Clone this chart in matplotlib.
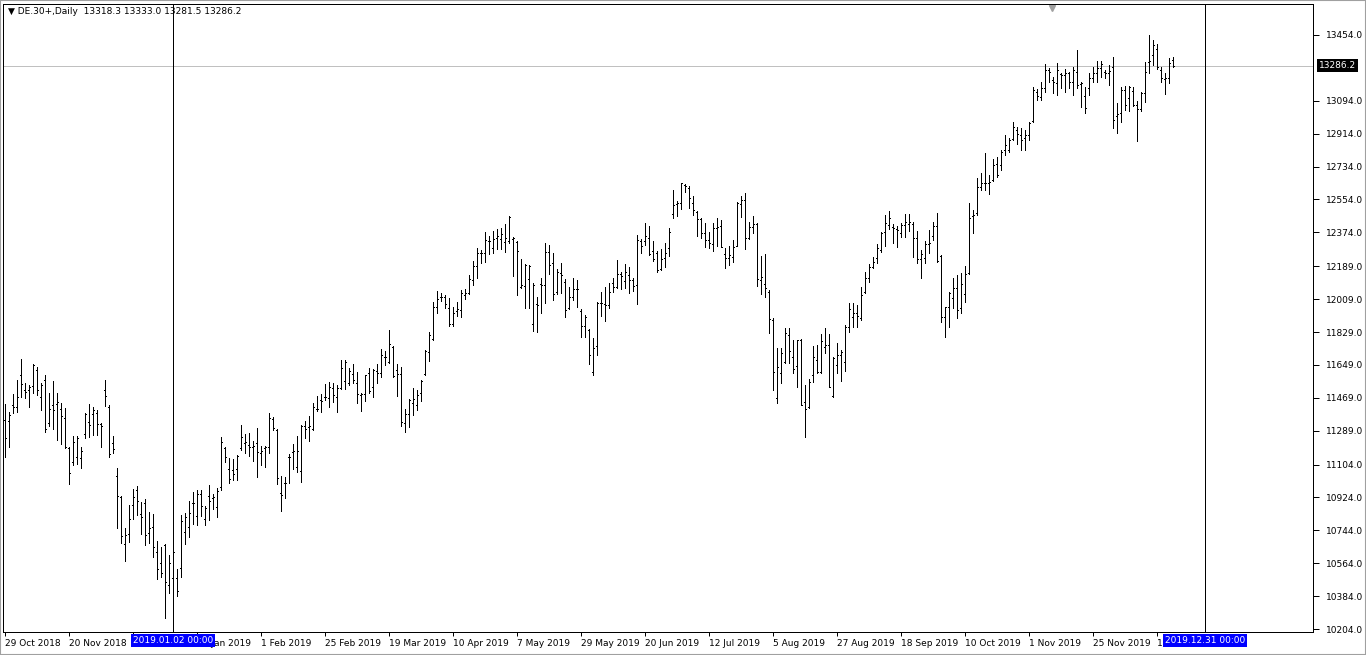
import numpy as np
import matplotlib.pyplot as plt
from matplotlib.transforms import blended_transform_factory
from matplotlib.patches import Rectangle

# daily DE30 bars, 29 Oct 2018 .. Dec 2019
opens = [
    11348, 11342, 11430, 11419, 11594, 11512, 11512, 11534, 11621, 11473,
    11566, 11331, 11430, 11435, 11408, 11358, 11194, 11118, 11145, 11140,
    11271, 11337, 11380, 11386, 11326, 11512, 11419, 11222, 11041, 10926,
    10669, 10724, 10882, 10965, 10833, 10893, 10729, 10762, 10625, 10565,
    10664, 10445, 10483, 10483, 10538, 10735, 10762, 10893, 10822, 10943,
    10806, 10932, 10921, 10871, 10981, 11194, 11080, 11074, 11080, 11194,
    11222, 11211, 11200, 11222, 11167, 11194, 11200, 11353, 11293, 10948,
    11003, 11145, 11173, 11090, 11069, 11315, 11309, 11298, 11408, 11457,
    11473, 11468, 11523, 11473, 11523, 11561, 11550, 11599, 11550, 11484,
    11490, 11605, 11528, 11616, 11605, 11692, 11665, 11747, 11621, 11599,
    11331, 11380, 11441, 11430, 11495, 11599, 11720, 11791, 11966, 12021,
    12021, 11960, 11873, 11944, 11949, 12031, 12042, 12113, 12190, 12261,
    12261, 12327, 12289, 12343, 12338, 12321, 12327, 12338, 12321, 12075,
    12081, 12119, 11873, 11982, 12092, 12086, 12267, 12206, 12048, 12152,
    12102, 11960, 12021, 12064, 11944, 11862, 11840, 11610, 11752, 11988,
    11982, 11977, 12097, 12075, 12146, 12108, 12141, 12113, 12086, 12327,
    12327, 12343, 12272, 12261, 12174, 12234, 12289, 12475, 12529, 12535,
    12634, 12617, 12535, 12486, 12447, 12371, 12332, 12311, 12398, 12409,
    12256, 12234, 12239, 12300, 12529, 12551, 12343, 12404, 12420, 12113,
    12092, 12048, 11895, 11468, 11605, 11665, 11813, 11692, 11643, 11785,
    11446, 11419, 11594, 11676, 11610, 11747, 11758, 11479, 11648, 11703,
    11665, 11856, 11911, 11933, 11906, 12048, 12124, 12185, 12234, 12278,
    12376, 12414, 12404, 12393, 12371, 12414, 12420, 12420, 12343, 12228,
    12234, 12311, 12354, 12409, 12245, 11911, 11966, 12015, 12070, 11960,
    12037, 12152, 12464, 12480, 12622, 12644, 12644, 12661, 12748, 12743,
    12825, 12825, 12885, 12934, 12907, 12890, 12907, 12984, 13142, 13115,
    13164, 13262, 13208, 13191, 13240, 13235, 13246, 13197, 13252, 13186,
    13120, 13164, 13219, 13246, 13273, 13252, 13246, 13279, 13011, 13027,
    13153, 13109, 13148, 13071, 13049, 13137, 13306, 13345, 13377, 13262,
    13213, 13219, 13318.3,
]
highs = [
    11435, 11391, 11490, 11566, 11681, 11550, 11539, 11654, 11637, 11550,
    11594, 11495, 11561, 11495, 11441, 11413, 11200, 11260, 11260, 11200,
    11386, 11435, 11419, 11402, 11331, 11566, 11430, 11260, 11085, 10932,
    10757, 10882, 10970, 10986, 10899, 10915, 10844, 10833, 10686, 10653,
    10670, 10609, 10647, 10532, 10828, 10839, 10904, 10954, 10965, 10965,
    10877, 10992, 10943, 10975, 11254, 11200, 11140, 11134, 11156, 11320,
    11271, 11276, 11233, 11304, 11205, 11205, 11386, 11364, 11298, 11041,
    11036, 11162, 11216, 11260, 11320, 11342, 11369, 11441, 11479, 11490,
    11545, 11555, 11550, 11539, 11676, 11676, 11632, 11654, 11610, 11495,
    11594, 11632, 11627, 11654, 11736, 11725, 11840, 11752, 11654, 11637,
    11408, 11462, 11523, 11512, 11566, 11731, 11829, 11993, 12053, 12042,
    12031, 12015, 11966, 11993, 12059, 12064, 12141, 12217, 12289, 12278,
    12376, 12354, 12382, 12393, 12398, 12420, 12464, 12349, 12327, 12228,
    12201, 12196, 12097, 12021, 12124, 12316, 12305, 12261, 12174, 12206,
    12119, 12075, 12124, 12113, 11955, 11922, 11845, 11796, 11993, 12048,
    12075, 12097, 12124, 12223, 12157, 12201, 12185, 12124, 12360, 12338,
    12425, 12409, 12327, 12272, 12283, 12316, 12398, 12606, 12546, 12644,
    12639, 12628, 12573, 12491, 12453, 12425, 12376, 12425, 12453, 12442,
    12289, 12300, 12332, 12540, 12573, 12590, 12431, 12464, 12425, 12245,
    12256, 12059, 11906, 11741, 11741, 11851, 11851, 11785, 11785, 11790,
    11539, 11572, 11752, 11758, 11818, 11851, 11818, 11692, 11769, 11731,
    11867, 11988, 11988, 11977, 12075, 12157, 12201, 12239, 12311, 12376,
    12469, 12491, 12420, 12409, 12425, 12475, 12475, 12431, 12382, 12278,
    12327, 12387, 12431, 12480, 12250, 11966, 12048, 12124, 12141, 12152,
    12190, 12535, 12496, 12672, 12699, 12808, 12688, 12775, 12786, 12825,
    12907, 12890, 12978, 12951, 12945, 12934, 12978, 13170, 13159, 13197,
    13295, 13273, 13224, 13301, 13246, 13268, 13252, 13279, 13372, 13197,
    13170, 13246, 13279, 13312, 13312, 13262, 13290, 13334, 13082, 13170,
    13175, 13175, 13170, 13093, 13142, 13306, 13454, 13427, 13405, 13279,
    13246, 13328, 13333.0,
]
lows = [
    11145, 11200, 11386, 11391, 11473, 11468, 11419, 11495, 11484, 11402,
    11282, 11315, 11298, 11238, 11216, 11194, 10997, 11101, 11107, 11085,
    11249, 11254, 11265, 11265, 11200, 11424, 11145, 11167, 10757, 10675,
    10576, 10680, 10806, 10828, 10724, 10664, 10675, 10598, 10478, 10488,
    10264, 10401, 10417, 10385, 10488, 10669, 10708, 10779, 10773, 10822,
    10773, 10800, 10861, 10817, 10965, 11118, 11003, 11019, 11019, 11183,
    11167, 11151, 11123, 11036, 11101, 11090, 11167, 11293, 10997, 10850,
    10921, 11003, 11080, 11063, 11008, 11249, 11233, 11293, 11397, 11391,
    11457, 11419, 11446, 11391, 11517, 11517, 11539, 11550, 11441, 11397,
    11452, 11495, 11473, 11550, 11583, 11648, 11659, 11583, 11479, 11315,
    11282, 11309, 11375, 11402, 11452, 11594, 11670, 11785, 11933, 11999,
    11960, 11862, 11862, 11917, 11911, 12010, 12037, 12086, 12124, 12206,
    12212, 12256, 12261, 12283, 12283, 12267, 12316, 12135, 12031, 12070,
    11960, 11960, 11835, 11829, 11933, 11988, 12146, 12004, 12037, 12042,
    11911, 11955, 12004, 11966, 11802, 11802, 11654, 11594, 11703, 11917,
    11889, 11960, 12048, 12070, 12064, 12070, 12042, 12053, 11982, 12261,
    12305, 12250, 12217, 12157, 12168, 12185, 12245, 12453, 12464, 12502,
    12595, 12507, 12469, 12354, 12343, 12294, 12289, 12272, 12300, 12294,
    12179, 12196, 12212, 12300, 12458, 12283, 12338, 12371, 12081, 12037,
    12021, 11824, 11512, 11441, 11550, 11659, 11659, 11605, 11528, 11430,
    11254, 11413, 11555, 11605, 11605, 11714, 11528, 11473, 11605, 11561,
    11616, 11829, 11856, 11856, 11895, 12042, 12102, 12179, 12206, 12267,
    12300, 12393, 12316, 12294, 12349, 12349, 12382, 12239, 12206, 12124,
    12206, 12261, 12332, 12212, 11884, 11802, 11856, 11960, 11906, 11933,
    11993, 12146, 12371, 12469, 12606, 12606, 12584, 12655, 12677, 12715,
    12798, 12814, 12880, 12858, 12825, 12825, 12880, 12978, 13098, 13098,
    13142, 13197, 13137, 13126, 13164, 13142, 13164, 13126, 13164, 13060,
    13027, 13126, 13197, 13197, 13224, 13219, 13180, 12945, 12918, 12978,
    13044, 13038, 13066, 12874, 13038, 13087, 13246, 13290, 13268, 13197,
    13131, 13191, 13281.5,
]
closes = [
    11249, 11375, 11419, 11473, 11545, 11501, 11528, 11648, 11512, 11539,
    11298, 11408, 11402, 11446, 11369, 11200, 11058, 11227, 11249, 11178,
    11380, 11320, 11402, 11326, 11315, 11479, 11162, 11189, 10932, 10713,
    10718, 10806, 10926, 10904, 10817, 10718, 10757, 10653, 10532, 10510,
    10461, 10565, 10625, 10412, 10795, 10817, 10839, 10893, 10943, 10877,
    10866, 10904, 10926, 10959, 11227, 11145, 11025, 11052, 11151, 11254,
    11227, 11200, 11205, 11173, 11178, 11200, 11358, 11304, 11030, 10937,
    11003, 11145, 11178, 11178, 11315, 11298, 11315, 11419, 11408, 11452,
    11473, 11528, 11484, 11523, 11632, 11665, 11616, 11566, 11490, 11490,
    11594, 11506, 11621, 11605, 11703, 11692, 11763, 11588, 11599, 11337,
    11380, 11457, 11462, 11484, 11561, 11725, 11813, 11966, 12010, 12021,
    11982, 11873, 11933, 11955, 12042, 12042, 12119, 12190, 12261, 12261,
    12332, 12327, 12338, 12354, 12365, 12343, 12458, 12343, 12272, 12086,
    12196, 12190, 12086, 11977, 12086, 12267, 12196, 12037, 12157, 12141,
    11949, 12021, 12064, 12064, 11862, 11911, 11703, 11741, 11988, 11988,
    11977, 12048, 12075, 12146, 12135, 12157, 12113, 12081, 12332, 12300,
    12354, 12256, 12228, 12168, 12228, 12261, 12376, 12524, 12535, 12644,
    12628, 12562, 12496, 12447, 12371, 12332, 12316, 12398, 12404, 12294,
    12234, 12250, 12294, 12535, 12551, 12343, 12404, 12420, 12119, 12130,
    12070, 11900, 11610, 11637, 11714, 11824, 11725, 11627, 11785, 11430,
    11408, 11555, 11692, 11610, 11780, 11758, 11528, 11687, 11703, 11720,
    11856, 11955, 11933, 11917, 12031, 12124, 12185, 12212, 12289, 12371,
    12425, 12453, 12398, 12387, 12414, 12431, 12431, 12343, 12228, 12256,
    12311, 12316, 12409, 12217, 11911, 11966, 12042, 12070, 11949, 12092,
    12146, 12453, 12469, 12622, 12644, 12644, 12650, 12743, 12688, 12814,
    12852, 12880, 12951, 12912, 12880, 12907, 12973, 13153, 13120, 13164,
    13262, 13252, 13197, 13262, 13235, 13246, 13197, 13262, 13180, 13191,
    13055, 13219, 13246, 13273, 13295, 13246, 13257, 12989, 13022, 13153,
    13071, 13170, 13071, 13049, 13137, 13252, 13312, 13399, 13279, 13219,
    13219, 13301, 13286.2,
]

price_ticks = [13454, 13094, 12914, 12734, 12554, 12374, 12189, 12009, 11829,
               11649, 11469, 11289, 11104, 10924, 10744, 10564, 10384, 10204]
# the third label sits fully under the blue 2019.01.02 box, so it stays blank
date_labels = ['29 Oct 2018', '20 Nov 2018', '', '10 Jan 2019',
               '1 Feb 2019', '25 Feb 2019', '19 Mar 2019', '10 Apr 2019',
               '7 May 2019', '29 May 2019', '20 Jun 2019', '12 Jul 2019',
               '5 Aug 2019', '27 Aug 2019', '18 Sep 2019', '10 Oct 2019',
               '1 Nov 2019', '25 Nov 2019', '17 Dec 2019']
marker_bars = [42, 300]
marker_labels = ['2019.01.02 00:00', '2019.12.31 00:00']
header = '\u25bc DE.30+,Daily  13318.3 13333.0 13281.5 13286.2'

plt.rcParams['font.family'] = ['DejaVu Sans']
fs = 6.5

n = len(closes)
idx = np.arange(n)

fig = plt.figure(figsize=(13.66, 6.55), dpi=100)
fig.patch.set_facecolor('white')
ax = fig.add_axes([3 / 1366, 23 / 655, 1310 / 1366, 628 / 655])
ax.set_xlim(-0.5, 327)
ax.set_ylim(10187.6, 13623.6)

# bars
ax.vlines(idx, lows, highs, colors='black', linewidth=0.72, antialiased=False, zorder=3)
ax.hlines(opens, idx - 0.3, idx, colors='black', linewidth=0.72, antialiased=False, zorder=3)
ax.hlines(closes, idx, idx + 0.3, colors='black', linewidth=0.72, antialiased=False, zorder=3)

# bid line and vertical markers
ax.axhline(closes[-1], color='#C0C0C0', linewidth=0.72, zorder=1)
for b in marker_bars:
    ax.axvline(b, color='black', linewidth=0.72, zorder=2)

for s in ax.spines.values():
    s.set_linewidth(0.72)
    s.set_color('black')

ax.yaxis.tick_right()
ax.set_yticks(price_ticks)
ax.set_yticklabels(['%.1f' % v for v in price_ticks])
ax.tick_params(axis='y', length=4, width=0.72, pad=5, labelsize=fs, colors='black')

ax.set_xticks(np.arange(len(date_labels)) * 16)
ax.set_xticklabels(date_labels, ha='left')
ax.tick_params(axis='x', length=3, width=0.72, pad=2, labelsize=fs)

trans = blended_transform_factory(ax.transData, ax.transAxes)
for b, lab in zip(marker_bars, marker_labels):
    ax.text(b, -0.006, lab, transform=trans, ha='center', va='top', color='white',
            fontsize=fs, clip_on=False, zorder=10,
            bbox=dict(boxstyle='square,pad=0.2', fc='#0000ff', ec='none'))

ptrans = blended_transform_factory(ax.transAxes, ax.transData)
ax.text(1.0045, closes[-1], '%.1f' % closes[-1], transform=ptrans, ha='left', va='center',
        color='white', fontsize=fs, clip_on=False, zorder=10,
        bbox=dict(boxstyle='square,pad=0.2', fc='black', ec='none'))

# chart shift marker
ax.plot([0.8008], [0.994], marker='v', color='#A0A0A0', markersize=5,
        transform=ax.transAxes, clip_on=False)

fig.text(8 / 1366, 1 - 12 / 655, header, fontsize=fs, va='center', ha='left')

fig.patches.append(Rectangle((0, 0), 1, 1, transform=fig.transFigure, fill=False,
                             edgecolor='#A0A0A0', linewidth=1.5))

fig.savefig('out.png', dpi=100)
